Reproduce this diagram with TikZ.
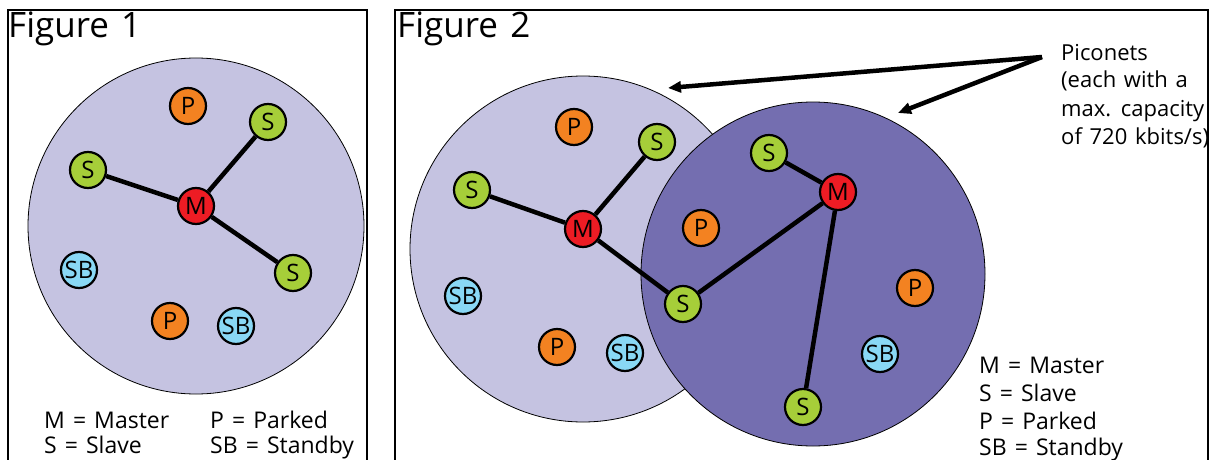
\documentclass[tikz,border=0pt]{standalone}
\usepackage{fontspec}
\setmainfont{Open Sans}[WordSpace=1.35]
\usetikzlibrary{arrows.meta}
\definecolor{lightnet}{RGB}{197,195,225}
\definecolor{darknet}{RGB}{116,110,176}
\definecolor{mred}{RGB}{237,28,36}
\definecolor{mgreen}{RGB}{166,206,57}
\definecolor{morange}{RGB}{243,130,33}
\definecolor{msky}{RGB}{137,216,245}
\pgfdeclarelayer{netlayer}
\pgfdeclarelayer{linklayer}
\pgfsetlayers{netlayer,linklayer,main}
\begin{document}
\begin{tikzpicture}[x=1pt,y=-1pt,
  dev/.style={circle,draw=black,line width=2.2pt,minimum size=36pt,inner sep=0pt,font=\fontsize{24}{24}\selectfont},
  master/.style={dev,fill=mred},
  slave/.style={dev,fill=mgreen},
  parked/.style={dev,fill=morange},
  standby/.style={dev,fill=msky},
  link/.style={line width=4.5pt},
  piconet/.style={draw=black,line width=0.8pt},
  framebox/.style={draw=black,line width=2.5pt},
  title/.style={anchor=base west,inner sep=0pt,font=\fontsize{35}{35}\selectfont},
  legend/.style={anchor=base west,inner sep=0pt,font=\fontsize{23}{23}\selectfont},
  note/.style={anchor=base west,inner sep=0pt,font=\fontsize{22}{22}\selectfont},
  pointer/.style={line width=4.5pt,-{Triangle[length=13pt,width=11pt]}}
]
\useasboundingbox (0,0) rectangle (1210,460);
\clip (0,0) rectangle (1210,460);

% ---------- nodes ----------
% Figure 1
\node[master] (a-m) at (196,206) {M};
\node[parked] (a-p1) at (188,106) {P};
\node[slave] (a-s1) at (268,122) {S};
\node[slave] (a-s2) at (88,170) {S};
\node[slave] (a-s3) at (293,273) {S};
\node[standby] (a-sb1) at (79,270) {SB};
\node[parked] (a-p2) at (170,321) {P};
\node[standby] (a-sb2) at (236,326) {SB};
% Figure 2, left piconet
\node[master] (b-m) at (583,229) {M};
\node[slave] (b-s1) at (472,190) {S};
\node[slave] (b-s2) at (657,142) {S};
\node[slave] (b-s3) at (683,304) {S};
\node[parked] (b-p1) at (574,127) {P};
\node[standby] (b-sb1) at (463,296) {SB};
\node[parked] (b-p2) at (557,347) {P};
\node[standby] (b-sb2) at (625,353) {SB};
% Figure 2, right piconet
\node[master] (c-m) at (838,192) {M};
\node[slave] (c-s1) at (769,153) {S};
\node[slave] (c-s2) at (803,407) {S};
\node[parked] (c-p1) at (701,228) {P};
\node[parked] (c-p2) at (915,288) {P};
\node[standby] (c-sb) at (880,354) {SB};

% ---------- frames, piconets ----------
\begin{pgfonlayer}{netlayer}
\draw[framebox] (8,10) rectangle (367,480);
\draw[framebox] (395,10) rectangle (1208,480);
\draw[piconet,fill=lightnet] (196,226) circle[radius=168];
\draw[piconet,fill=lightnet] (583,249) circle[radius=173];
\draw[piconet,fill=darknet] (813,274) circle[radius=172];
\end{pgfonlayer}

% ---------- links ----------
\begin{pgfonlayer}{linklayer}
\draw[link] (a-m) -- (a-s1);
\draw[link] (a-m) -- (a-s2);
\draw[link] (a-m) -- (a-s3);
\draw[link] (b-m) -- (b-s1);
\draw[link] (b-m) -- (b-s2);
\draw[link] (b-m) -- (b-s3);
\draw[link] (b-s3) -- (c-m);
\draw[link] (c-m) -- (c-s1);
\draw[link] (c-m) -- (c-s2);
\end{pgfonlayer}

% ---------- texts ----------
\node[title] (t1) at (8,38) {Figure 1};
\node[title] (t2) at (397,38) {Figure 2};

\node[legend] (l1a) at (44,428) {M = Master};
\node[legend] (l1b) at (44,453) {S = Slave};
\node[legend] (l1c) at (210,428) {P = Parked};
\node[legend] (l1d) at (210,453) {SB = Standby};

\node[note] (pc1) at (1061,60) {Piconets};
\node[note] (pc2) at (1061,88) {(each with a};
\node[note] (pc3) at (1061,116) {max. capacity};
\node[note] (pc4) at (1061,144) {of 720 kbits/s)};

\node[legend] (l2a) at (979,373) {M = Master};
\node[legend] (l2b) at (979,401) {S = Slave};
\node[legend] (l2c) at (979,429) {P = Parked};
\node[legend] (l2d) at (979,455) {SB = Standby};

% ---------- pointer ----------
\coordinate (apex) at (1042,57);
\coordinate (tip1) at (668,88);
\coordinate (tip2) at (898,113);
\draw[pointer] (apex) -- (tip1);
\draw[pointer] (apex) -- (tip2);
\end{tikzpicture}
\end{document}
